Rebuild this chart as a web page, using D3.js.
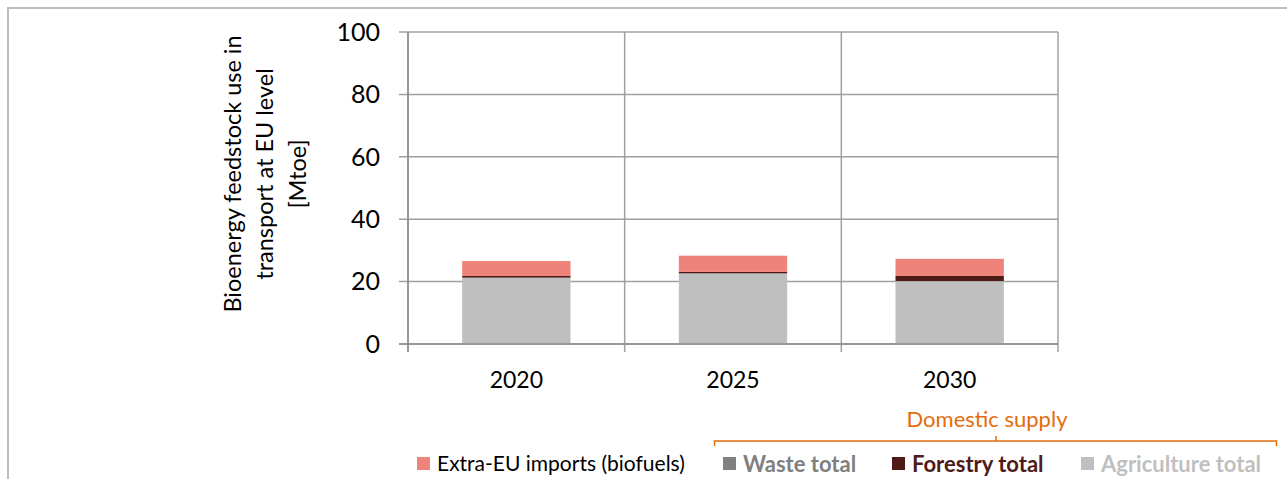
<!DOCTYPE html>
<html>
<head>
<meta charset="utf-8">
<script src="https://cdn.jsdelivr.net/npm/d3@7"></script>
<style>
  html, body { margin: 0; padding: 0; background: #fff; }
  svg { display: block; }
  text { font-family: Lato, "Open Sans", sans-serif; }
</style>
</head>
<body>
<svg id="chart" width="1287" height="479"></svg>
<script>
// Bioenergy feedstock use in transport at EU level [Mtoe]
const years = ["2020", "2025", "2030"];
const agriculture = [21.1, 22.5, 20.1];
const waste = [0.2, 0.2, 0.1];
const forestry = [0.5, 0.4, 1.6];
const imports = [4.8, 5.2, 5.5];
const yTicks = [0, 20, 40, 60, 80, 100];

const seriesNames = ["Agriculture total", "Waste total", "Forestry total", "Extra-EU imports (biofuels)"];
const seriesColors = ["#bfbfbf", "#808080", "#4f1b18", "#ee837a"];

const svg = d3.select("#chart");

// outer frame
svg.append("path")
  .attr("d", "M8,479 V8 H1287")
  .attr("fill", "none")
  .attr("stroke", "#bdbdbd")
  .attr("stroke-width", 2);

const plot = { left: 408, right: 1058, top: 32, bottom: 344 };

const x = d3.scaleBand().domain(years).range([plot.left, plot.right]).padding(0);
const y = d3.scaleLinear().domain([0, 100]).range([plot.bottom, plot.top]);

// horizontal gridlines
svg.append("g")
  .selectAll("line")
  .data(yTicks)
  .join("line")
  .attr("x1", plot.left - 9)
  .attr("x2", plot.right)
  .attr("y1", d => y(d))
  .attr("y2", d => y(d))
  .attr("stroke", "#a0a0a0")
  .attr("stroke-width", 1.5);

// vertical gridlines at category boundaries
const bounds = years.map(d => x(d)).concat([x(years[years.length - 1]) + x.bandwidth()]);
svg.append("g")
  .selectAll("line")
  .data(bounds)
  .join("line")
  .attr("x1", d => d)
  .attr("x2", d => d)
  .attr("y1", plot.top)
  .attr("y2", plot.bottom + 8)
  .attr("stroke", "#a0a0a0")
  .attr("stroke-width", 1.5);

// stacked bars
const rows = years.map((yr, i) => ({
  year: yr,
  "Agriculture total": agriculture[i],
  "Waste total": waste[i],
  "Forestry total": forestry[i],
  "Extra-EU imports (biofuels)": imports[i]
}));
const stacked = d3.stack().keys(seriesNames)(rows);
const barW = x.bandwidth() * 0.5;

svg.append("g")
  .selectAll("g")
  .data(stacked)
  .join("g")
  .attr("fill", (d, i) => seriesColors[i])
  .selectAll("rect")
  .data(d => d)
  .join("rect")
  .attr("x", d => x(d.data.year) + (x.bandwidth() - barW) / 2)
  .attr("width", barW)
  .attr("y", d => y(d[1]))
  .attr("height", d => y(d[0]) - y(d[1]));

// axis lines drawn over the bars
svg.append("line")
  .attr("x1", plot.left).attr("x2", plot.left)
  .attr("y1", plot.top).attr("y2", plot.bottom + 8)
  .attr("stroke", "#8c8c8c").attr("stroke-width", 1.5);
svg.append("line")
  .attr("x1", plot.left - 9).attr("x2", plot.right)
  .attr("y1", plot.bottom).attr("y2", plot.bottom)
  .attr("stroke", "#8c8c8c").attr("stroke-width", 1.5);

// y tick labels
svg.append("g")
  .selectAll("text")
  .data(yTicks)
  .join("text")
  .attr("x", 380)
  .attr("y", d => y(d))
  .attr("dy", "0.35em")
  .attr("text-anchor", "end")
  .attr("font-size", 25)
  .attr("fill", "#000")
  .text(d => d);

// category labels
svg.append("g")
  .selectAll("text")
  .data(years)
  .join("text")
  .attr("x", d => x(d) + x.bandwidth() / 2)
  .attr("y", 380)
  .attr("dy", "0.35em")
  .attr("text-anchor", "middle")
  .attr("font-size", 23)
  .attr("fill", "#000")
  .text(d => d);

// y axis title
const titleLines = ["Bioenergy feedstock use in", "transport at EU level", "[Mtoe]"];
svg.append("g")
  .attr("transform", "translate(265,174) rotate(-90)")
  .selectAll("text")
  .data(titleLines)
  .join("text")
  .attr("x", 0)
  .attr("y", (d, i) => (i - 1) * 32.5)
  .attr("dy", "0.35em")
  .attr("text-anchor", "middle")
  .attr("font-size", 23.5)
  .attr("fill", "#000")
  .text(d => d);

// "Domestic supply" bracket
const orange = "#e46c0a";
svg.append("path")
  .attr("d", "M714.5,446 V441 H1276.5 V446 M996,441 V436")
  .attr("fill", "none")
  .attr("stroke", orange)
  .attr("stroke-width", 1.5);
svg.append("text")
  .attr("x", 987)
  .attr("y", 419)
  .attr("dy", "0.35em")
  .attr("text-anchor", "middle")
  .attr("font-size", 22)
  .attr("fill", orange)
  .text("Domestic supply");

// legend
const legendItems = [
  { name: "Extra-EU imports (biofuels)", color: "#ee837a", text: "#000", bold: false, x: 417 },
  { name: "Waste total", color: "#808080", text: "#808080", bold: true, x: 723 },
  { name: "Forestry total", color: "#4f1b18", text: "#4f1b18", bold: true, x: 892 },
  { name: "Agriculture total", color: "#bfbfbf", text: "#bfbfbf", bold: true, x: 1081 }
];
const lg = svg.append("g")
  .selectAll("g")
  .data(legendItems)
  .join("g")
  .attr("transform", d => `translate(${d.x},464)`);
lg.append("rect")
  .attr("x", 0).attr("y", -7)
  .attr("width", 13).attr("height", 13)
  .attr("fill", d => d.color);
lg.append("text")
  .attr("x", 20)
  .attr("y", 0)
  .attr("dy", "0.35em")
  .attr("font-size", d => d.bold ? 22 : 21)
  .attr("font-weight", d => d.bold ? 700 : 400)
  .attr("fill", d => d.text)
  .text(d => d.name);
</script>
</body>
</html>
